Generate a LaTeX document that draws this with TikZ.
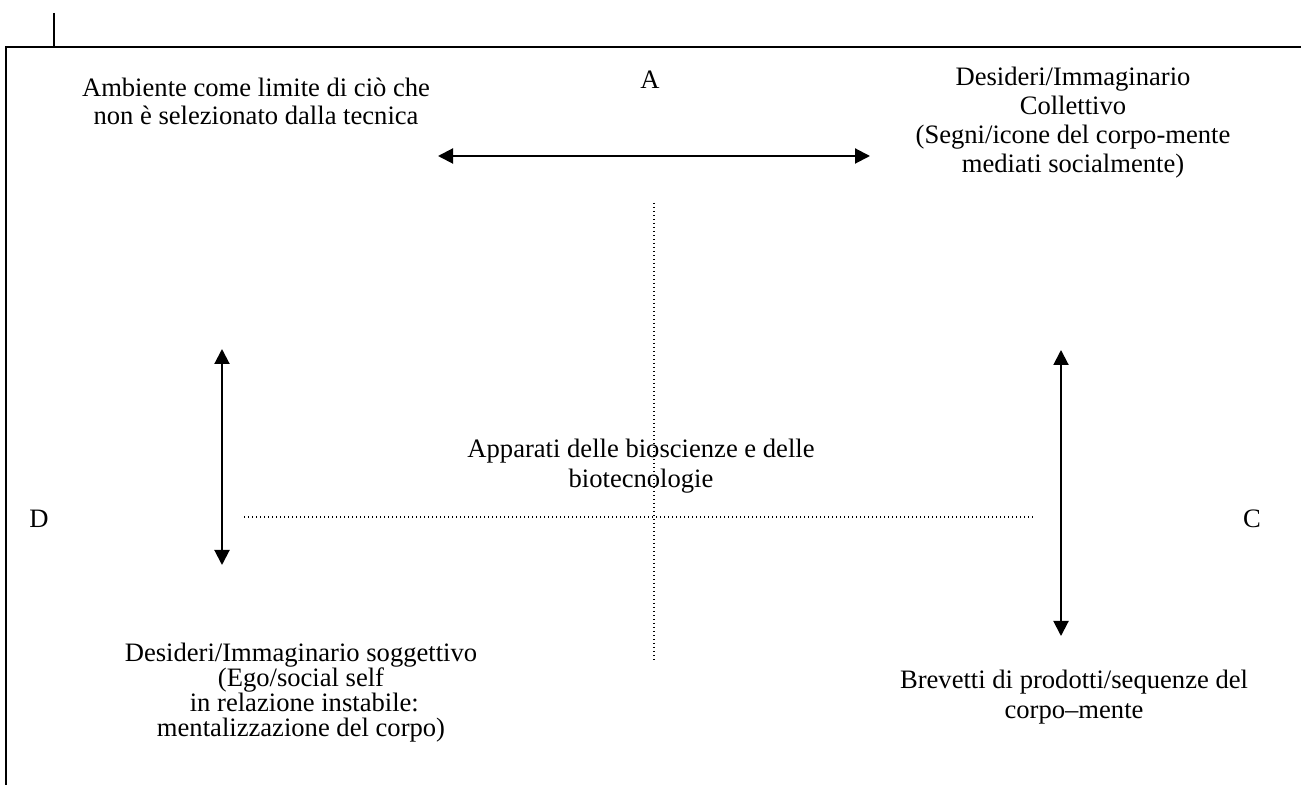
\documentclass[tikz,border=0pt]{standalone}
\usepackage{fontspec}
\setmainfont{Liberation Serif}
\usetikzlibrary{arrows.meta}
\begin{document}
\begin{tikzpicture}[x=0.5pt,y=-0.5pt,
  lbl/.style={align=center,inner sep=0pt,font=\fontsize{13.3}{14.5}\selectfont},
  frameline/.style={line width=0.6pt},
  dbl/.style={line width=1pt,{Triangle[length=7.5pt,width=7.5pt]}-{Triangle[length=7.5pt,width=7.5pt]}},
  dots/.style={line width=0.7pt,dash pattern=on 0.7pt off 1.3pt}]
\useasboundingbox (0,0) rectangle (1301,785);
% frame
\coordinate (t1) at (54,13);
\coordinate (t2) at (54,47);
\coordinate (f1) at (1301,47);
\coordinate (f2) at (6,47);
\coordinate (f3) at (6,785);
\draw[frameline] (t1) -- (t2);
\draw[frameline] (f1) -- (f2) -- (f3);
% labels
\node[lbl] (A) at (650,80) {A};
\node[lbl] (D) at (39,519) {D};
\node[lbl] (C) at (1252,519) {C};
\node[lbl,font=\fontsize{13.3}{14}\selectfont] (tl) at (256,101) {Ambiente come limite di ciò che\\non è selezionato dalla tecnica};
\node[lbl] (tr) at (1073,123) {Desideri/Immaginario\\Collettivo\\(Segni/icone del corpo-mente\\mediati socialmente)};
\node[lbl,font=\fontsize{13.3}{15}\selectfont] (ctr) at (641,466) {Apparati delle bioscienze e delle\\biotecnologie};
\node[lbl,font=\fontsize{13.3}{12.5}\selectfont] (bl) at (301,693) {Desideri/Immaginario soggettivo\\(Ego/social self\\\ in relazione instabile:\\mentalizzazione del corpo)};
\node[lbl,font=\fontsize{13.3}{15}\selectfont] (br) at (1074,697) {Brevetti di prodotti/sequenze del\\corpo–mente};
% connectors
\coordinate (h1) at (438,156);
\coordinate (h2) at (870,156);
\draw[dbl] (h1) -- (h2);
\coordinate (v1) at (654,203);
\coordinate (v2) at (654,660);
\draw[dots] (v1) -- (v2);
\coordinate (d1) at (244,517);
\coordinate (d2) at (1035,517);
\draw[dots] (d1) -- (d2);
\coordinate (l1) at (222,349);
\coordinate (l2) at (222,565);
\draw[dbl] (l1) -- (l2);
\coordinate (r1) at (1061,350);
\coordinate (r2) at (1061,636);
\draw[dbl] (r1) -- (r2);
\end{tikzpicture}
\end{document}
